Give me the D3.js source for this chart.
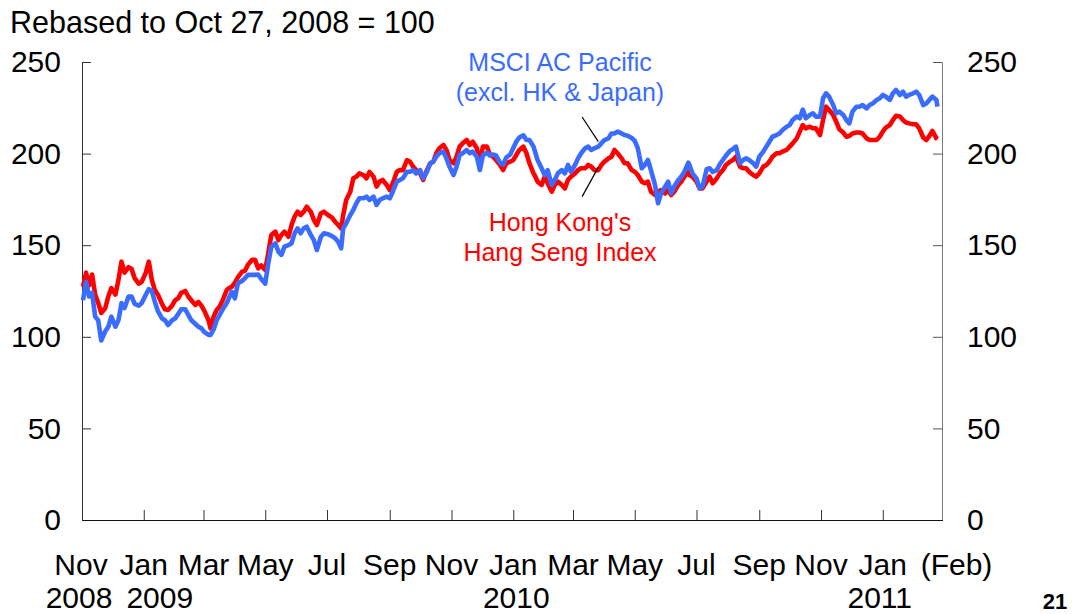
<!DOCTYPE html>
<html><head><meta charset="utf-8">
<script src="https://cdn.jsdelivr.net/npm/d3@7"></script>
<style>
html,body{margin:0;padding:0;background:#fff;}
svg{display:block;font-family:"Liberation Sans",Arial,Helvetica,sans-serif;}
</style></head><body>
<svg id="chart" width="1073" height="614"></svg>
<script>
const dates = [
"2008-11-02","2008-11-05","2008-11-08","2008-11-11","2008-11-14","2008-11-17","2008-11-20","2008-11-24","2008-11-27","2008-11-30",
"2008-12-04","2008-12-07","2008-12-10","2008-12-13","2008-12-17","2008-12-20","2008-12-23","2008-12-27","2008-12-30",
"2009-01-03","2009-01-06","2009-01-09","2009-01-12","2009-01-15","2009-01-19","2009-01-22","2009-01-25","2009-01-29",
"2009-02-01","2009-02-04","2009-02-07","2009-02-11","2009-02-14","2009-02-17","2009-02-21","2009-02-24","2009-02-27",
"2009-03-02","2009-03-06","2009-03-08","2009-03-11","2009-03-14","2009-03-17","2009-03-20","2009-03-24","2009-03-26","2009-03-29",
"2009-04-01","2009-04-04","2009-04-08","2009-04-11","2009-04-14","2009-04-18","2009-04-21","2009-04-24","2009-04-27",
"2009-05-01","2009-05-04","2009-05-07","2009-05-11","2009-05-14","2009-05-17","2009-05-20","2009-05-24","2009-05-27","2009-05-30",
"2009-06-02","2009-06-05","2009-06-08","2009-06-11","2009-06-15","2009-06-18","2009-06-21","2009-06-25","2009-06-28",
"2009-07-02","2009-07-06","2009-07-09","2009-07-12","2009-07-15","2009-07-17","2009-07-20","2009-07-24","2009-07-27","2009-07-30",
"2009-08-02","2009-08-06","2009-08-09","2009-08-12","2009-08-16","2009-08-19","2009-08-22","2009-08-25","2009-08-29",
"2009-09-01","2009-09-04","2009-09-08","2009-09-11","2009-09-14","2009-09-18","2009-09-21","2009-09-24","2009-09-27",
"2009-10-01","2009-10-04","2009-10-07","2009-10-11","2009-10-14","2009-10-17","2009-10-20","2009-10-24","2009-10-27","2009-10-30",
"2009-11-03","2009-11-06","2009-11-09","2009-11-12","2009-11-16","2009-11-19","2009-11-22","2009-11-26","2009-11-29",
"2009-12-02","2009-12-06","2009-12-09","2009-12-12","2009-12-15","2009-12-19","2009-12-22","2009-12-25","2009-12-29",
"2010-01-01","2010-01-04","2010-01-07","2010-01-11","2010-01-14","2010-01-17","2010-01-21","2010-01-22","2010-01-25","2010-01-29",
"2010-02-01","2010-02-04","2010-02-08","2010-02-11","2010-02-14","2010-02-18","2010-02-21","2010-02-24","2010-02-27",
"2010-03-03","2010-03-06","2010-03-09","2010-03-13","2010-03-16","2010-03-19","2010-03-22","2010-03-26","2010-03-29",
"2010-04-01","2010-04-05","2010-04-08","2010-04-11","2010-04-14","2010-04-18","2010-04-21","2010-04-24","2010-04-28",
"2010-05-01","2010-05-04","2010-05-08","2010-05-11","2010-05-14","2010-05-17","2010-05-21","2010-05-24","2010-05-27","2010-05-31",
"2010-06-03","2010-06-06","2010-06-09","2010-06-13","2010-06-16","2010-06-19","2010-06-23","2010-06-24","2010-06-27",
"2010-07-01","2010-07-04","2010-07-07","2010-07-11","2010-07-14","2010-07-17","2010-07-21","2010-07-24","2010-07-27","2010-07-30",
"2010-08-03","2010-08-06","2010-08-09","2010-08-13","2010-08-16","2010-08-19","2010-08-22","2010-08-26","2010-08-29",
"2010-09-01","2010-09-05","2010-09-08","2010-09-11","2010-09-14","2010-09-18","2010-09-21","2010-09-24","2010-09-28",
"2010-10-01","2010-10-04","2010-10-08","2010-10-11","2010-10-14","2010-10-17","2010-10-21","2010-10-24","2010-10-27","2010-10-31",
"2010-11-03","2010-11-06","2010-11-09","2010-11-13","2010-11-16","2010-11-19","2010-11-23","2010-11-26","2010-11-29",
"2010-12-02","2010-12-06","2010-12-09","2010-12-12","2010-12-16","2010-12-19","2010-12-22","2010-12-26","2010-12-29",
"2011-01-01","2011-01-04","2011-01-08","2011-01-11","2011-01-14","2011-01-18","2011-01-21","2011-01-24","2011-01-27","2011-01-31",
"2011-02-03","2011-02-06","2011-02-10","2011-02-13","2011-02-16","2011-02-19","2011-02-23","2011-02-24"
];
const hangSeng = [
127.3,135,128,134,123,118.5,113,115.7,122,126.6,
123,131,141,135,138,137,132,129,130,
135,141,131,125.5,123,118,115,114.6,117,
120,121,124,125,122,120,117.4,119,117,
114,109,104.6,111,114.6,116.5,120,125.5,126.5,127.3,
129.5,132.5,135.5,136,139.5,142,142,137.4,139,
136.5,145.6,155.6,157.4,152.8,155.6,157.4,154.6,161,165.6,
168.3,166.5,168.3,171,168.3,163.8,161,167.4,168.3,
166.5,165,162.8,161,159.2,166.5,174.7,179.2,186.5,187.4,
189.2,188.3,186.5,190,187.4,182,184.7,185.6,182.9,
180.1,183.8,190.1,191,191,196.5,195.6,192.9,191,
189.2,185.6,190.1,194.7,195.6,200.2,202.9,204.7,202,196.5,
194.7,198.3,203.8,205.6,207.4,204.7,206.5,202.9,194.7,
203.8,203.8,199.2,198.3,196.5,193.8,191,194.7,195.6,
196.5,199.2,202,203.8,200.2,194.7,189.2,188.3,184.7,182.9,
187.4,183.8,179.2,182.9,184.7,182.9,181,185.6,187.4,
189.2,191,192,192,193.8,192.9,191,191,193.8,
195.6,197.4,198.3,202,200.2,197.4,194.7,194.7,191,
190.1,188.3,184.7,183.8,184.7,179.2,177.4,179.2,180.1,178.3,
180.1,177.4,179.2,182.9,184.7,187.4,190.1,188.3,187.4,
184.7,181,181,184.7,187.4,183.8,186.5,189.2,191,193.8,
195.6,196.5,198.3,192.9,192,192,190.1,188.3,187.4,
189.2,192.9,193.8,195.6,198.3,200.2,200.2,201.1,202,
203.8,205.6,208.3,212,215.6,213.8,214.7,213.8,213.8,210.1,
218.3,225.6,223.8,221.1,217.4,213.3,211.5,209.2,209.6,
211,211.5,211.5,211,208.3,207.4,207.4,207.4,209.2,
212,214.2,215.6,218.3,220.6,220.2,218.3,217,216.5,216,
216,213.8,208.8,207.4,209.6,212.4,208.3,207.8
];
const msciPacific = [
120,130,122,124,111,109,98,103,105.5,111,
105.5,109,118.4,115.7,122,122,118,117,118.4,
123,126,125,119,114,110,109,106.4,109,
110,112.5,115,115,112,109,107,105.5,104.6,
102.5,101,101,104,109,112,115,118.4,121,124.6,
121,129.2,130.5,132,133.8,133.8,133.8,134,131.5,
129,140,149.2,151,146.5,144.7,149.2,150.1,151,156.5,
159.2,156.5,159.2,160.1,155.6,152.8,147.4,154.6,156.5,
156,155,153.8,151.9,148.3,159.2,162,166.5,169.2,172.9,
175.6,175.6,176.5,174.7,176.5,172,174.7,175.6,176.5,
175.6,179.2,184.7,185.6,186.5,190.1,190.1,191,189.2,
191,186.5,189.2,194.7,195.6,198.3,200.2,201.1,197.4,192.9,
188.3,192.9,199.2,200.2,202,200.2,201.1,198.3,191,
199,200.5,199,199.5,199,195,194,197.8,199.5,
203,206.5,208.8,210,207.4,207.4,203.8,202,196.5,192,
188.3,191,182.9,185.6,189.2,191,189.2,193.8,190.1,
193.8,197.4,200.2,202.9,203.8,202,202.9,203.8,205.6,
207.4,208.3,211,211,212,211,210.1,209.7,208.5,
207,203,192,193.8,196.5,191,182.9,172.9,178.3,182,
184.7,178.3,182,185.6,187.4,190.1,195,193.8,189.2,
186.5,181,182,191.5,192,190,191,194.2,196.5,198.8,
201.5,202.5,203.8,194.7,196.5,197.4,196.5,194.7,192.9,
198.3,201.1,203.8,206.5,209.2,210.1,211,212.9,214.7,
215.6,218.3,220.2,219.3,224,219.3,221.1,222,220.2,220.2,
230.2,232.9,231.1,226.5,222,222.9,221.1,218.3,216.5,
222.9,225.6,225.6,226.5,224.7,226.5,227.4,229.3,230.2,
232,231.1,229.3,232.9,234.7,232,233.8,231.1,232,232.9,
233.8,232,226.5,227.4,229.3,231.1,229.3,225.6
];
const yTicks = [0, 50, 100, 150, 200, 250];
const monthTickDates = ["2008-11-01","2009-01-01","2009-03-01","2009-05-01","2009-07-01","2009-09-01","2009-11-01",
  "2010-01-01","2010-03-01","2010-05-01","2010-07-01","2010-09-01","2010-11-01","2011-01-01"];
const monthLabels = ["Nov","Jan","Mar","May","Jul","Sep","Nov","Jan","Mar","May","Jul","Sep","Nov","Jan"];
const yearDates = ["2008-11-01","2009-01-01","2010-01-01","2011-01-01"];
const yearLabels = ["2008","2009","2010","2011"];
const endLabel = "(Feb)";
const titleText = "Rebased to Oct 27, 2008 = 100";
const msciLabel = ["MSCI AC Pacific","(excl. HK & Japan)"];
const hsiLabel = ["Hong Kong's","Hang Seng Index"];
const pageNumber = "21";

const parse = d3.utcParse("%Y-%m-%d");
const svg = d3.select("#chart");
const BLUE = "#3a6cff", RED = "#ff0000";

const x = d3.scaleUtc().domain([parse("2008-11-01"), parse("2011-03-01")]).range([82, 942.5]);
const y = d3.scaleLinear().domain([0, 250]).range([520, 62]);

// axes
const axFont = "30px";
const gl = svg.append("g").attr("transform", "translate(82,0)")
  .call(d3.axisLeft(y).tickValues(yTicks).tickSize(-9).tickSizeOuter(0).tickPadding(21));
const gr = svg.append("g").attr("transform", "translate(942,0)")
  .call(d3.axisRight(y).tickValues(yTicks).tickSize(-9).tickSizeOuter(0).tickPadding(25));
[gl, gr].forEach(g => {
  g.selectAll("text").attr("font-size", axFont).attr("fill", "#000")
    .attr("font-family", "Liberation Sans, Arial, sans-serif");
});
gl.select(".domain").attr("stroke", "#333");
gl.selectAll(".tick line").attr("stroke", "#333");
gr.select(".domain").attr("stroke", "#7a7a7a");
gr.selectAll(".tick line").attr("stroke", "#555");

const gb = svg.append("g").attr("transform", "translate(0,520)")
  .call(d3.axisBottom(x).tickValues(monthTickDates.slice(1).map(parse)).tickSize(-10).tickSizeOuter(0).tickFormat(""));
gb.select(".domain").attr("stroke", "#111");
gb.selectAll(".tick line").attr("stroke", "#333");

// month labels
svg.append("g").selectAll("text").data(monthLabels).join("text")
  .attr("x", (d, i) => x(parse(monthTickDates[i])) - (i === 0 ? 1 : 0))
  .attr("y", 575).attr("text-anchor", "middle").attr("font-size", axFont).text(d => d);
svg.append("text").attr("x", x.range()[1] + 14).attr("y", 575).attr("text-anchor", "middle")
  .attr("font-size", axFont).text(endLabel);
const yearShift = [-3, 16, 3, -3];
svg.append("g").selectAll("text").data(yearLabels).join("text")
  .attr("x", (d, i) => x(parse(yearDates[i])) + yearShift[i])
  .attr("y", 608).attr("text-anchor", "middle").attr("font-size", axFont).text(d => d);

// title & page number
svg.append("text").attr("x", 10).attr("y", 33).attr("font-size", "30.5px").text(titleText);
svg.append("text").attr("x", 1055).attr("y", 609).attr("text-anchor", "middle")
  .attr("font-size", "22px").attr("font-weight", "bold").text(pageNumber);

// lines
const pts = dates.map(parse);
const line = d3.line().x((d, i) => x(pts[i])).y(d => y(d));
svg.append("path").datum(hangSeng).attr("d", line).attr("fill", "none")
  .attr("stroke", RED).attr("stroke-width", 4.6).attr("stroke-linejoin", "round");
svg.append("path").datum(msciPacific).attr("d", line).attr("fill", "none")
  .attr("stroke", BLUE).attr("stroke-width", 4.6).attr("stroke-linejoin", "round");

// series labels
svg.append("g").selectAll("text").data(msciLabel).join("text")
  .attr("x", 560).attr("y", (d, i) => 71 + i * 30).attr("text-anchor", "middle")
  .attr("font-size", "25px").attr("fill", BLUE).text(d => d);
svg.append("g").selectAll("text").data(hsiLabel).join("text")
  .attr("x", 560).attr("y", (d, i) => 231 + i * 30).attr("text-anchor", "middle")
  .attr("font-size", "25px").attr("fill", RED).text(d => d);

// pointer lines (in data space)
const pointers = [
  [["2010-03-10", 220], ["2010-03-26", 206.5]],
  [["2010-03-26", 192.5], ["2010-03-10", 176.5]]
];
svg.append("g").selectAll("line").data(pointers).join("line")
  .attr("x1", d => x(parse(d[0][0]))).attr("y1", d => y(d[0][1]))
  .attr("x2", d => x(parse(d[1][0]))).attr("y2", d => y(d[1][1]))
  .attr("stroke", "#000").attr("stroke-width", 1.2);
</script>
</body></html>
